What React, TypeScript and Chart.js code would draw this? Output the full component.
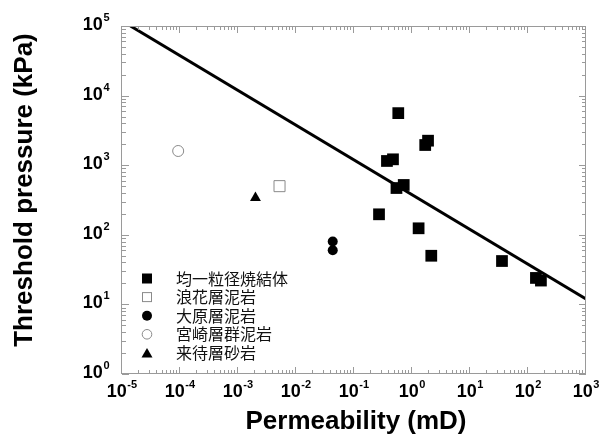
import { useEffect, useRef } from 'react';
import { Chart, registerables } from 'chart.js';

Chart.register(...registerables);

// ---- data ----
const seriesLabels = ['均一粒径焼結体', '浪花層泥岩', '大原層泥岩', '宮崎層群泥岩', '来待層砂岩'];

const sinteredPerm = [0.58, 1.89, 1.69, 0.37, 0.47, 0.54, 0.72, 0.27, 1.3, 2.15, 35.6, 137, 167];
const sinteredPressure = [5600, 2250, 1950, 1150, 1215, 470, 520, 197, 124, 50, 42, 24, 22];

const naniwaPerm = [0.0052];
const naniwaPressure = [500];

const oharaPerm = [0.043, 0.043];
const oharaPressure = [80, 60];

const miyazakiPerm = [0.000093];
const miyazakiPressure = [1600];

const kimachiPerm = [0.002];
const kimachiPressure = [340];

const fitPerm = [0.000014, 1000];
const fitPressure = [100000, 12];

const xTickExponents = [-5, -4, -3, -2, -1, 0, 1, 2, 3];
const yTickExponents = [0, 1, 2, 3, 4, 5];

const xTitle = 'Permeability (mD)';
const yTitle = 'Threshold pressure (kPa)';

const toPoints = (xs: number[], ys: number[]) => xs.map((x, i) => ({ x, y: ys[i] }));

const AXIS_GREY = '#9a9a9a';
const OPEN_GREY = '#8a8a8a';
const BASE_FONT = 'bold 18px "Liberation Sans", Arial, sans-serif';
const SUP_FONT = 'bold 11px "Liberation Sans", Arial, sans-serif';
const TITLE_FONT = 'bold 26px "Liberation Sans", Arial, sans-serif';
const LEGEND_FONT = '16px "Noto Sans CJK JP", sans-serif';

const decorPlugin = {
  id: 'decor',
  afterDraw(chart: any) {
    const { ctx, chartArea } = chart;
    const xs = chart.scales.x;
    const ys = chart.scales.y;
    const L = chartArea.left;
    const R = chartArea.right;
    const T = chartArea.top;
    const B = chartArea.bottom;
    ctx.save();

    // frame
    ctx.strokeStyle = AXIS_GREY;
    ctx.lineWidth = 1;
    ctx.strokeRect(Math.round(L) - 0.5, Math.round(T) + 0.5, Math.round(R - L), Math.round(B - T) - 1);

    const majorLen = 7;
    const minorLen = 4;
    ctx.beginPath();
    // x ticks
    for (let i = 0; i < xTickExponents.length; i++) {
      const e = xTickExponents[i];
      const px = Math.round(xs.getPixelForValue(Math.pow(10, e))) - 0.5;
      ctx.moveTo(px, B);
      ctx.lineTo(px, B - majorLen);
      ctx.moveTo(px, T);
      ctx.lineTo(px, T + majorLen);
      if (i < xTickExponents.length - 1) {
        for (let k = 2; k <= 9; k++) {
          const mx = Math.round(xs.getPixelForValue(k * Math.pow(10, e))) - 0.5;
          ctx.moveTo(mx, B);
          ctx.lineTo(mx, B - minorLen);
          ctx.moveTo(mx, T);
          ctx.lineTo(mx, T + minorLen);
        }
      }
    }
    // y ticks
    for (let i = 0; i < yTickExponents.length; i++) {
      const e = yTickExponents[i];
      const py = Math.round(ys.getPixelForValue(Math.pow(10, e))) + 0.5;
      ctx.moveTo(L, py);
      ctx.lineTo(L + majorLen, py);
      ctx.moveTo(R, py);
      ctx.lineTo(R - majorLen, py);
      if (i < yTickExponents.length - 1) {
        for (let k = 2; k <= 9; k++) {
          const my = Math.round(ys.getPixelForValue(k * Math.pow(10, e))) + 0.5;
          ctx.moveTo(L, my);
          ctx.lineTo(L + minorLen, my);
          ctx.moveTo(R, my);
          ctx.lineTo(R - minorLen, my);
        }
      }
    }
    ctx.stroke();

    // tick labels
    ctx.fillStyle = '#000';
    ctx.textBaseline = 'alphabetic';
    ctx.textAlign = 'left';
    const drawPow = (e: number, xLeft: number, baseY: number, supY: number) => {
      ctx.font = BASE_FONT;
      ctx.fillText('10', xLeft, baseY);
      const wb = ctx.measureText('10').width;
      ctx.font = SUP_FONT;
      ctx.fillText(String(e), xLeft + wb + 0.5, supY);
    };
    const widthPow = (e: number) => {
      ctx.font = BASE_FONT;
      const wb = ctx.measureText('10').width;
      ctx.font = SUP_FONT;
      const ws = ctx.measureText(String(e)).width;
      return wb + ws + 0.5;
    };
    for (const e of xTickExponents) {
      const px = xs.getPixelForValue(Math.pow(10, e));
      const w = widthPow(e);
      drawPow(e, px - w / 2, B + 23, B + 13.5);
    }
    for (const e of yTickExponents) {
      const py = ys.getPixelForValue(Math.pow(10, e));
      const w = widthPow(e);
      drawPow(e, L - 12.5 - w, py + 4, py - 5);
    }

    // axis titles
    ctx.font = TITLE_FONT;
    ctx.textAlign = 'center';
    ctx.fillText(xTitle, (L + R) / 2 + 2, 429);
    ctx.save();
    ctx.translate(32, 190);
    ctx.rotate(-Math.PI / 2);
    ctx.fillText(yTitle, 0, 0);
    ctx.restore();

    // legend
    const lx = 147;
    const tx = 176;
    const y0 = 278.5;
    const dy = 18.6;
    ctx.font = LEGEND_FONT;
    ctx.textAlign = 'left';
    ctx.textBaseline = 'middle';
    for (let i = 0; i < seriesLabels.length; i++) {
      const cy = y0 + i * dy;
      ctx.lineWidth = 1;
      if (i === 0) {
        ctx.fillStyle = '#000';
        ctx.fillRect(lx - 5, cy - 5, 10, 10);
      } else if (i === 1) {
        ctx.strokeStyle = OPEN_GREY;
        ctx.strokeRect(lx - 4.5, cy - 4.5, 9, 9);
      } else if (i === 2) {
        ctx.fillStyle = '#000';
        ctx.beginPath();
        ctx.arc(lx, cy, 5, 0, Math.PI * 2);
        ctx.fill();
      } else if (i === 3) {
        ctx.strokeStyle = OPEN_GREY;
        ctx.beginPath();
        ctx.arc(lx, cy, 4.8, 0, Math.PI * 2);
        ctx.stroke();
      } else {
        ctx.fillStyle = '#000';
        ctx.beginPath();
        ctx.moveTo(lx, cy - 5);
        ctx.lineTo(lx + 5.5, cy + 4.5);
        ctx.lineTo(lx - 5.5, cy + 4.5);
        ctx.closePath();
        ctx.fill();
      }
      ctx.fillStyle = '#111';
      ctx.fillText(seriesLabels[i], tx, cy);
    }
    ctx.restore();
  },
};

export default function App() {
  const canvasRef = useRef<HTMLCanvasElement | null>(null);

  useEffect(() => {
    const canvas = canvasRef.current;
    if (!canvas) return;
    const chart = new Chart(canvas, {
      type: 'scatter',
      data: {
        datasets: [
          {
            label: seriesLabels[0],
            data: toPoints(sinteredPerm, sinteredPressure),
            pointStyle: 'rect',
            pointRadius: 8.3,
            backgroundColor: '#000',
            borderColor: '#000',
            borderWidth: 0,
          },
          {
            label: seriesLabels[1],
            data: toPoints(naniwaPerm, naniwaPressure),
            pointStyle: 'rect',
            pointRadius: 7.8,
            backgroundColor: 'rgba(255,255,255,0)',
            borderColor: OPEN_GREY,
            borderWidth: 1,
          },
          {
            label: seriesLabels[2],
            data: toPoints(oharaPerm, oharaPressure),
            pointStyle: 'circle',
            pointRadius: 5,
            backgroundColor: '#000',
            borderColor: '#000',
            borderWidth: 0,
          },
          {
            label: seriesLabels[3],
            data: toPoints(miyazakiPerm, miyazakiPressure),
            pointStyle: 'circle',
            pointRadius: 5.5,
            backgroundColor: 'rgba(255,255,255,0)',
            borderColor: OPEN_GREY,
            borderWidth: 1,
          },
          {
            label: seriesLabels[4],
            data: toPoints(kimachiPerm, kimachiPressure),
            pointStyle: 'triangle',
            pointRadius: 6.3,
            backgroundColor: '#000',
            borderColor: '#000',
            borderWidth: 0,
          },
          {
            type: 'line',
            label: 'fit',
            data: toPoints(fitPerm, fitPressure),
            showLine: true,
            pointRadius: 0,
            borderColor: '#000',
            borderWidth: 3,
            fill: false,
          } as any,
        ],
      },
      options: {
        animation: false,
        responsive: false,
        maintainAspectRatio: false,
        events: [],
        layout: { padding: { left: 122, right: 15, top: 26, bottom: 60 } },
        plugins: {
          legend: { display: false },
          tooltip: { enabled: false },
          title: { display: false },
        },
        scales: {
          x: {
            type: 'logarithmic',
            min: 1e-5,
            max: 1e3,
            grid: { display: false, drawTicks: false },
            border: { display: false },
            ticks: { display: false },
            title: { display: false },
          },
          y: {
            type: 'logarithmic',
            min: 1,
            max: 1e5,
            grid: { display: false, drawTicks: false },
            border: { display: false },
            ticks: { display: false },
            title: { display: false },
          },
        },
      },
      plugins: [decorPlugin],
    });
    return () => chart.destroy();
  }, []);

  return (
    <div style={{ position: 'fixed', left: 0, top: 0, width: 601, height: 434, background: '#fff' }}>
      <canvas ref={canvasRef} width={601} height={434} style={{ width: 601, height: 434, display: 'block' }} />
    </div>
  );
}
